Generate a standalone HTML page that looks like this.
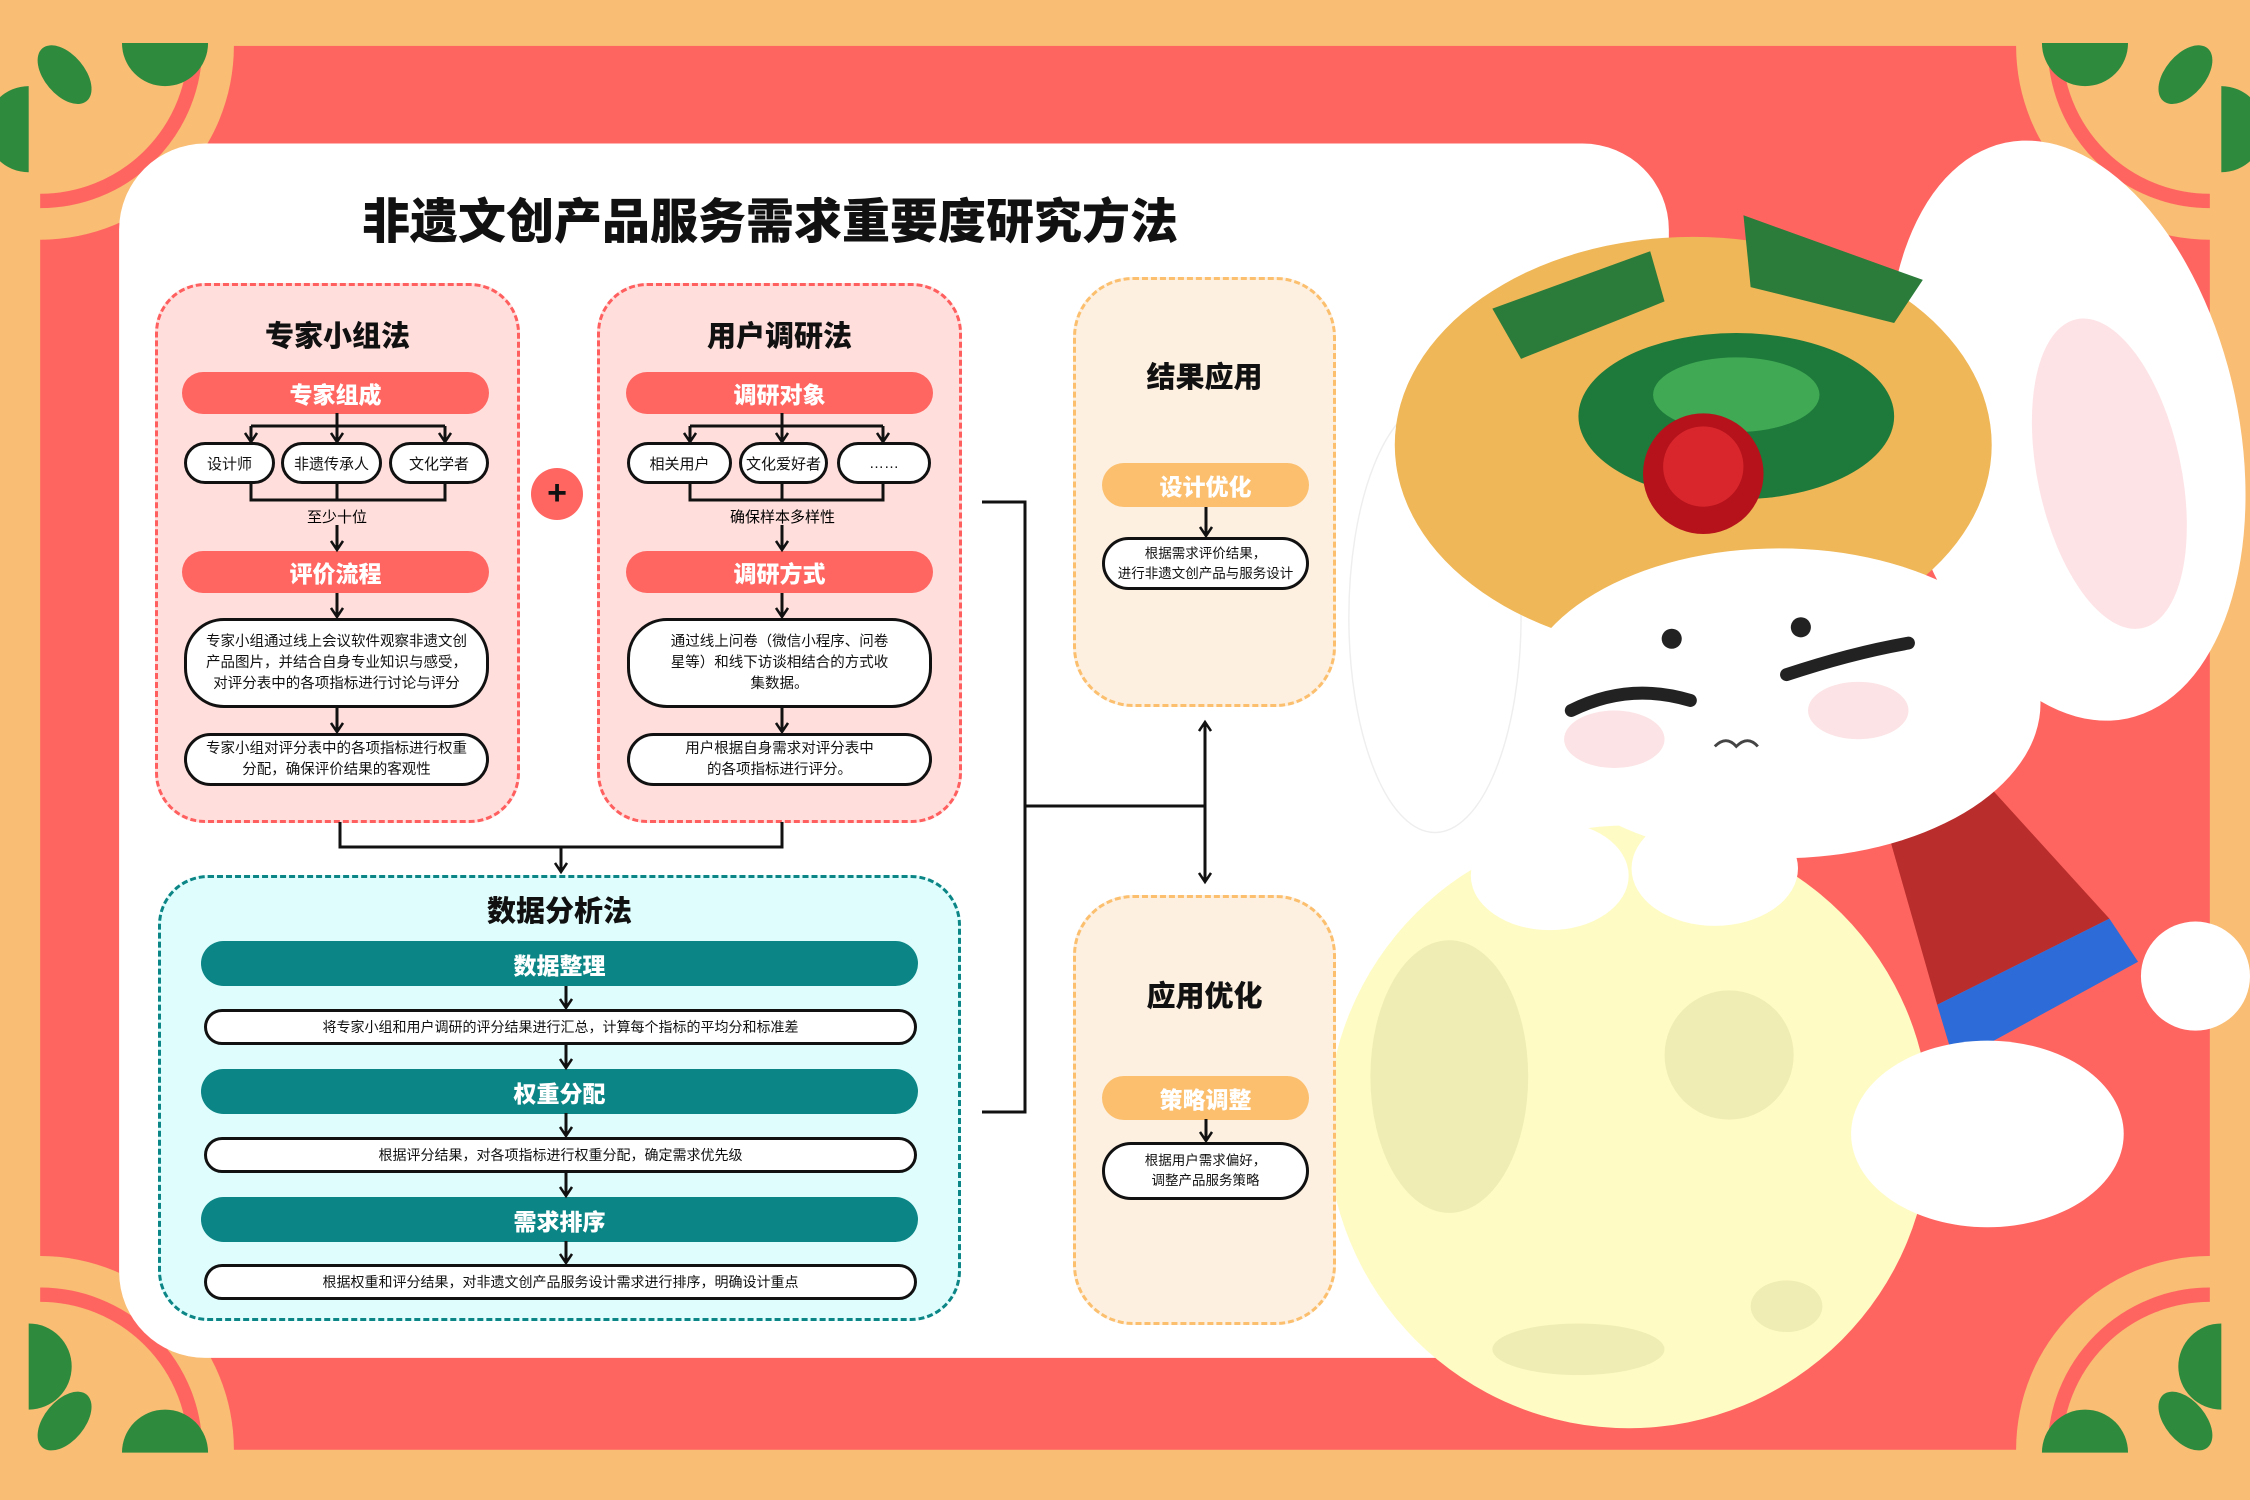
<!DOCTYPE html>
<html><head><meta charset="utf-8"><style>
*{margin:0;padding:0;box-sizing:border-box}
html,body{width:2250px;height:1500px;overflow:hidden}
body{position:relative;font-family:"Liberation Sans","Noto Sans CJK SC",sans-serif;background:#F9BD74}
.a{position:absolute}
.t{position:absolute;text-align:center;font-weight:900;color:#111}
.pill{position:absolute;border-radius:30px;color:#fff;font-weight:900;font-size:23px;display:flex;align-items:center;justify-content:center}
.red{background:#FF6661}.teal{background:#0B8585}.org{background:#FBBF6E}
.box{position:absolute;background:#fff;border:3px solid #111;border-radius:40px;display:flex;align-items:center;justify-content:center;text-align:center;font-size:14.5px;line-height:21px;color:#111}
.ov{position:absolute;background:#fff;border:3px solid #111;border-radius:30px;display:flex;align-items:center;justify-content:center;font-size:15px;color:#111}
</style></head><body>
<svg class="a" style="left:0;top:0" width="2250" height="1500" viewBox="0 0 1568 1045" preserveAspectRatio="none">
<rect x="0" y="0" width="1568" height="1045" fill="#F9BD74"/>
<rect x="28" y="32" width="1512" height="978" fill="#FF6560"/>
<g>
<circle cx="28" cy="32" r="135" fill="#F9BD74"/><path d="M28 140 A108 108 0 0 0 136 32" stroke="#FF6560" stroke-width="10" fill="none"/>
<path d="M20 120 a30 30 0 0 1 0 -60z" fill="#2E8B3E"/><path d="M85 30 a30 30 0 0 0 60 0z" fill="#2E8B3E"/><ellipse cx="45" cy="52" rx="14" ry="24" fill="#2E8B3E" transform="rotate(-40 45 52)"/>
<circle cx="1540" cy="32" r="135" fill="#F9BD74"/><path d="M1540 140 A108 108 0 0 1 1432 32" stroke="#FF6560" stroke-width="10" fill="none"/>
<path d="M1548 120 a30 30 0 0 0 0 -60z" fill="#2E8B3E"/><path d="M1483 30 a30 30 0 0 1 -60 0z" fill="#2E8B3E"/><ellipse cx="1523" cy="52" rx="14" ry="24" fill="#2E8B3E" transform="rotate(40 1523 52)"/>
<circle cx="28" cy="1010" r="135" fill="#F9BD74"/><path d="M28 902 A108 108 0 0 1 136 1010" stroke="#FF6560" stroke-width="10" fill="none"/>
<path d="M20 922 a30 30 0 0 1 0 60z" fill="#2E8B3E"/><path d="M85 1012 a30 30 0 0 1 60 0z" fill="#2E8B3E"/><ellipse cx="45" cy="990" rx="14" ry="24" fill="#2E8B3E" transform="rotate(40 45 990)"/>
<circle cx="1540" cy="1010" r="135" fill="#F9BD74"/><path d="M1540 902 A108 108 0 0 0 1432 1010" stroke="#FF6560" stroke-width="10" fill="none"/>
<path d="M1548 922 a30 30 0 0 0 0 60z" fill="#2E8B3E"/><path d="M1483 1012 a30 30 0 0 0 -60 0z" fill="#2E8B3E"/><ellipse cx="1523" cy="990" rx="14" ry="24" fill="#2E8B3E" transform="rotate(-40 1523 990)"/>
</g>
<rect x="83" y="100" width="1080" height="846" rx="60" fill="#fff"/>
<ellipse cx="1000" cy="430" rx="60" ry="150" fill="#fff" stroke="#eee"/>
<ellipse cx="1440" cy="300" rx="120" ry="205" fill="#fff" transform="rotate(-12 1440 300)"/>
<ellipse cx="1470" cy="330" rx="50" ry="110" fill="#FDE3E6" transform="rotate(-12 1470 330)"/>
<circle cx="1135" cy="785" r="210" fill="#FFFBC4"/>
<ellipse cx="1010" cy="750" rx="55" ry="95" fill="#F0EDB4"/><circle cx="1205" cy="735" r="45" fill="#F0EDB4"/><ellipse cx="1100" cy="940" rx="60" ry="18" fill="#F0EDB4"/><ellipse cx="1245" cy="910" rx="25" ry="18" fill="#F0EDB4"/>
<path d="M1310 560 L1370 530 L1470 640 L1350 700Z" fill="#B92E2C"/><path d="M1350 700 L1470 640 L1490 670 L1362 740Z" fill="#2C6BD8"/>
<ellipse cx="1180" cy="310" rx="208" ry="145" fill="#EFB757"/>
<ellipse cx="1210" cy="290" rx="110" ry="58" fill="#1E7A3A"/><ellipse cx="1210" cy="275" rx="58" ry="26" fill="#3FA954"/>
<path d="M1040 215 L1150 175 L1160 210 L1060 250Z" fill="#2B7B3A"/><path d="M1215 150 L1340 195 L1320 225 L1220 200Z" fill="#2B7B3A"/>
<ellipse cx="1240" cy="490" rx="182" ry="108" fill="#fff"/>
<circle cx="1187" cy="330" r="42" fill="#B5121B"/><circle cx="1187" cy="325" r="28" fill="#D8262C"/>
<circle cx="1165" cy="445" r="7" fill="#222"/><circle cx="1255" cy="437" r="7" fill="#222"/>
<path d="M1095 495 Q1135 475 1178 488" stroke="#222" stroke-width="9" fill="none" stroke-linecap="round"/>
<path d="M1245 470 Q1290 455 1330 448" stroke="#222" stroke-width="9" fill="none" stroke-linecap="round"/>
<path d="M1195 520 q8 -8 15 0 q8 -8 15 0" stroke="#444" stroke-width="2" fill="none"/>
<ellipse cx="1125" cy="515" rx="35" ry="20" fill="#FCE3E5"/><ellipse cx="1295" cy="495" rx="35" ry="20" fill="#FCE3E5"/>
<ellipse cx="1080" cy="610" rx="55" ry="38" fill="#fff"/><ellipse cx="1195" cy="605" rx="58" ry="40" fill="#fff"/>
<ellipse cx="1385" cy="790" rx="95" ry="65" fill="#fff"/><circle cx="1530" cy="680" r="38" fill="#fff"/>
</svg>
<div class="t" style="left:340px;top:182px;width:860px;font-size:48px">非遗文创产品服务需求重要度研究方法</div>
<div class="a" style="left:155px;top:283px;width:365px;height:540px;background:#FFDEDC;border:3px dashed #FF5F5F;border-radius:50px"></div>
<div class="t" style="left:155px;top:313px;width:365px;font-size:29px">专家小组法</div>
<div class="pill red" style="left:182px;top:372px;width:307px;height:42px">专家组成</div>
<div class="ov" style="left:184px;top:442px;width:91px;height:42px">设计师</div>
<div class="ov" style="left:281px;top:442px;width:101px;height:42px">非遗传承人</div>
<div class="ov" style="left:389px;top:442px;width:100px;height:42px">文化学者</div>
<div class="a" style="left:287px;top:506px;width:100px;text-align:center;font-size:15px">至少十位</div>
<div class="pill red" style="left:182px;top:551px;width:307px;height:42px">评价流程</div>
<div class="box" style="left:184px;top:618px;width:305px;height:90px">专家小组通过线上会议软件观察非遗文创<br>产品图片，并结合自身专业知识与感受，<br>对评分表中的各项指标进行讨论与评分</div>
<div class="box" style="left:184px;top:733px;width:305px;height:53px">专家小组对评分表中的各项指标进行权重<br>分配，确保评价结果的客观性</div>
<div class="a" style="left:597px;top:283px;width:365px;height:540px;background:#FFDEDC;border:3px dashed #FF5F5F;border-radius:50px"></div>
<div class="t" style="left:597px;top:313px;width:365px;font-size:29px">用户调研法</div>
<div class="pill red" style="left:626px;top:372px;width:307px;height:42px">调研对象</div>
<div class="ov" style="left:627px;top:442px;width:105px;height:42px">相关用户</div>
<div class="ov" style="left:739px;top:442px;width:89px;height:42px">文化爱好者</div>
<div class="ov" style="left:837px;top:442px;width:94px;height:42px">……</div>
<div class="a" style="left:700px;top:506px;width:165px;text-align:center;font-size:15px">确保样本多样性</div>
<div class="pill red" style="left:626px;top:551px;width:307px;height:42px">调研方式</div>
<div class="box" style="left:627px;top:618px;width:305px;height:90px">通过线上问卷（微信小程序、问卷<br>星等）和线下访谈相结合的方式收<br>集数据。</div>
<div class="box" style="left:627px;top:733px;width:305px;height:53px">用户根据自身需求对评分表中<br>的各项指标进行评分。</div>
<div class="a" style="left:531px;top:468px;width:52px;height:52px;border-radius:50%;background:#FF6661;color:#111;font-size:34px;font-weight:900;text-align:center;line-height:50px">+</div>
<div class="a" style="left:158px;top:875px;width:803px;height:446px;background:#E0FDFD;border:3px dashed #0B8585;border-radius:50px"></div>
<div class="t" style="left:158px;top:888px;width:803px;font-size:29px">数据分析法</div>
<div class="pill teal" style="left:201px;top:941px;width:717px;height:45px">数据整理</div>
<div class="box" style="left:204px;top:1009px;width:713px;height:36px;font-size:14px">将专家小组和用户调研的评分结果进行汇总，计算每个指标的平均分和标准差</div>
<div class="pill teal" style="left:201px;top:1069px;width:717px;height:45px">权重分配</div>
<div class="box" style="left:204px;top:1137px;width:713px;height:36px;font-size:14px">根据评分结果，对各项指标进行权重分配，确定需求优先级</div>
<div class="pill teal" style="left:201px;top:1197px;width:717px;height:45px">需求排序</div>
<div class="box" style="left:204px;top:1264px;width:713px;height:36px;font-size:14px">根据权重和评分结果，对非遗文创产品服务设计需求进行排序，明确设计重点</div>
<div class="a" style="left:1073px;top:277px;width:263px;height:430px;background:#FDF0E0;border:3px dashed #FBBF6E;border-radius:60px"></div>
<div class="t" style="left:1073px;top:354px;width:263px;font-size:29px">结果应用</div>
<div class="pill org" style="left:1102px;top:463px;width:207px;height:44px">设计优化</div>
<div class="box" style="left:1102px;top:537px;width:207px;height:53px;font-size:13.5px;line-height:20px">根据需求评价结果，<br>进行非遗文创产品与服务设计</div>
<div class="a" style="left:1073px;top:895px;width:263px;height:430px;background:#FDF0E0;border:3px dashed #FBBF6E;border-radius:60px"></div>
<div class="t" style="left:1073px;top:973px;width:263px;font-size:29px">应用优化</div>
<div class="pill org" style="left:1102px;top:1076px;width:207px;height:44px">策略调整</div>
<div class="box" style="left:1102px;top:1142px;width:207px;height:58px;font-size:13.5px;line-height:20px">根据用户需求偏好，<br>调整产品服务策略</div>
<svg class="a" style="left:0;top:0" width="2250" height="1500" fill="none" stroke="#111" stroke-width="3">
<defs><marker id="m" markerWidth="14" markerHeight="14" refX="11" refY="7" orient="auto-start-reverse" markerUnits="userSpaceOnUse"><path d="M2 1 L11 7 L2 13" fill="none" stroke="#111" stroke-width="2.5"/></marker></defs>
<g marker-end="url(#m)">
<path d="M337 413V442"/><path d="M251 426V442"/><path d="M445 426V442"/>
<path d="M337 525V550"/><path d="M337 593V617"/><path d="M337 708V732"/>
<path d="M782 413V442"/><path d="M690 426V442"/><path d="M883 426V442"/>
<path d="M782 525V550"/><path d="M782 593V617"/><path d="M782 708V732"/>
<path d="M561 847V872"/>
<path d="M566 986V1008"/><path d="M566 1045V1068"/><path d="M566 1113V1136"/><path d="M566 1172V1196"/><path d="M566 1241V1263"/>
<path d="M1206 507V536"/><path d="M1206 1119V1141"/>
<path d="M1205 722V882" marker-start="url(#m)"/>
</g>
<path d="M251 426H445M251 484V500H445V484M337 484V500"/>
<path d="M690 426H883M690 484V500H883V484M782 484V500"/>
<path d="M340 822V847H782V822"/>
<path d="M982 502H1025V1112H982M1025 806H1205"/>
</svg>
</body></html>
